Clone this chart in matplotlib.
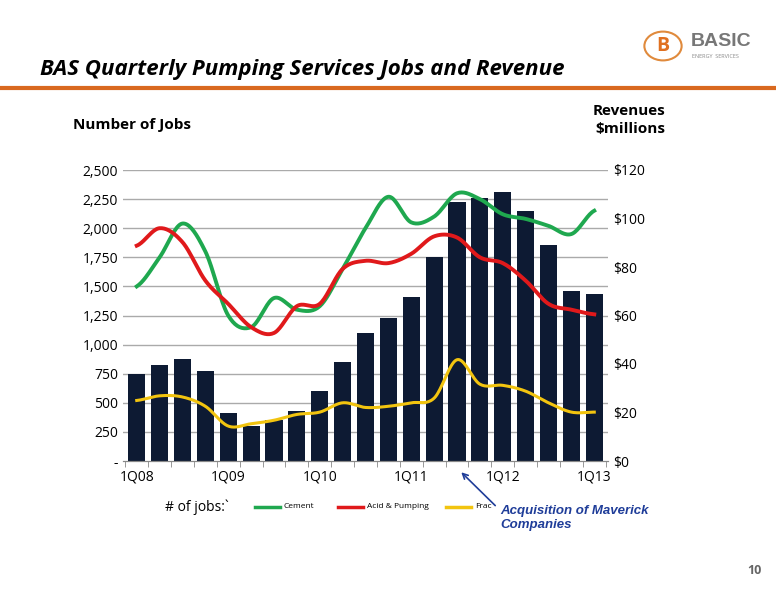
import numpy as np
import matplotlib.pyplot as plt
from matplotlib.lines import Line2D
from matplotlib.patches import Circle

plt.rcParams["font.family"] = ["Open Sans", "DejaVu Sans"]

quarters = ["1Q08", "", "", "", "1Q09", "", "", "", "1Q10", "", "", "", "1Q11",
            "", "", "", "1Q12", "", "", "", "1Q13"]
revenue = [36, 39.4, 42.2, 37, 19.7, 14.4, 16.8, 20.6, 28.8, 40.8, 52.8, 59,
           67.7, 84, 107, 108.5, 111, 103, 89, 70, 69]
cement = [1500, 1750, 2040, 1800, 1250, 1150, 1400, 1300, 1330, 1650, 2000, 2270,
          2050, 2100, 2300, 2250, 2120, 2080, 2020, 1950, 2150]
acid = [1850, 2000, 1880, 1550, 1350, 1150, 1100, 1330, 1350, 1650, 1720, 1700,
        1780, 1930, 1920, 1750, 1700, 1550, 1350, 1300, 1260]
frac = [520, 560, 550, 470, 300, 320, 350, 400, 420, 500, 460, 470,
        500, 540, 870, 660, 650, 600, 500, 420, 420]


def smooth(y, n=20):
    # Catmull-Rom curve through the points, like Excel's smoothed line
    y = np.asarray(y, float)
    p = np.concatenate([[y[0]], y, [y[-1]]])
    xs, ys = [], []
    for i in range(len(y) - 1):
        t = np.linspace(0, 1, n, endpoint=False)
        p0, p1, p2, p3 = p[i], p[i + 1], p[i + 2], p[i + 3]
        v = 0.5 * (2 * p1 + (-p0 + p2) * t + (2 * p0 - 5 * p1 + 4 * p2 - p3) * t ** 2
                   + (-p0 + 3 * p1 - 3 * p2 + p3) * t ** 3)
        xs.extend(i + t)
        ys.extend(v)
    xs.append(len(y) - 1)
    ys.append(y[-1])
    return np.array(xs), np.array(ys)


fig = plt.figure(figsize=(7.76, 6), dpi=100)
x = np.arange(len(revenue))

ax = fig.add_axes([123 / 776, 1 - 461 / 600, 485 / 776, 291 / 600])
ax2 = ax.twinx()
ax.set_zorder(2)
ax.patch.set_visible(False)

ax2.bar(x, revenue, width=0.75, color="#0d1a33", zorder=1)
ax2.set_ylim(0, 120)
ax2.set_yticks(range(0, 121, 20))
ax2.set_yticklabels([f"${v}" for v in range(0, 121, 20)])

for vals, c in [(cement, "#1fa84f"), (acid, "#e0191b"), (frac, "#f2c40f")]:
    sx, sy = smooth(vals)
    ax.plot(sx, sy, color=c, lw=2.8 if c != "#f2c40f" else 2.2)

ax.set_ylim(0, 2500)
ax.set_xlim(-0.6, len(x) - 0.4)
ticks = range(0, 2501, 250)
ax.set_yticks(ticks)
ax.set_yticklabels(["-" if t == 0 else f"{t:,}" for t in ticks])
for t in ticks[1:]:
    ax2.axhline(t * 120 / 2500, color="#aaaaaa", lw=1, zorder=0)
ax.set_xticks(x)
ax.set_xticklabels(quarters)
ax.tick_params(axis="x", length=0, pad=6)
ax.set_xticks(np.arange(-0.5, len(x), 1), minor=True)
ax.tick_params(axis="x", which="minor", length=4, color="#888888")
for a in (ax, ax2):
    a.tick_params(axis="y", length=0, labelsize=10)
    a.tick_params(axis="x", labelsize=10)
    for s in ("top", "left", "right"):
        a.spines[s].set_visible(False)
    a.spines["bottom"].set_color("#888888")

fig.text(40 / 776, 1 - 70 / 600, "BAS Quarterly Pumping Services Jobs and Revenue",
         fontsize=16, fontweight="bold", style="italic", va="center")
fig.add_artist(Line2D([0, 1], [1 - 88 / 600] * 2, color="#d9691f", lw=3))
fig.add_artist(Circle((663 / 776, 1 - 46 / 600), 0.024, transform=fig.transFigure,
                      fill=False, ec="#e08a3c", lw=1.5))
fig.text(663 / 776, 1 - 46 / 600, "B", color="#e07020", fontsize=14,
         fontweight="bold", ha="center", va="center")
fig.text(691 / 776, 1 - 42 / 600, "BASIC", color="#777777", fontsize=14,
         fontweight="bold", va="center", family=["Liberation Sans", "DejaVu Sans"])
fig.text(692 / 776, 1 - 57 / 600, "ENERGY  SERVICES", color="#888888", fontsize=4,
         va="center")
fig.text(73 / 776, 1 - 125 / 600, "Number of Jobs", fontsize=11, fontweight="bold",
         va="center")
fig.text(665 / 776, 1 - 120 / 600, "Revenues\n$millions", fontsize=11,
         fontweight="bold", va="center", ha="right", linespacing=1.4)

fig.text(165 / 776, 1 - 507 / 600, "# of jobs:`", fontsize=10, va="center")
for lx, lab, c in [(255, "Cement", "#1fa84f"), (338, "Acid & Pumping", "#e0191b"),
                   (446, "Frac", "#f2c40f")]:
    fig.add_artist(Line2D([lx / 776, (lx + 25) / 776], [1 - 507 / 600] * 2, color=c, lw=2.5))
    fig.text((lx + 29) / 776, 1 - 507 / 600, lab, fontsize=6, va="center")

ax.annotate("Acquisition of Maverick\nCompanies", xy=(14.1, -80),
            xytext=(500 / 776, 1 - 518 / 600), textcoords="figure fraction",
            fontsize=9.5, fontweight="bold", style="italic", color="#1f3d99",
            ha="left", va="center", family=["Liberation Sans", "DejaVu Sans"],
            annotation_clip=False,
            arrowprops=dict(arrowstyle="->", color="#1f3d99", lw=1.2,
                            relpos=(0, 0.8)))
fig.text(762 / 776, 1 - 571 / 600, "10", fontsize=9, color="#666666",
         fontweight="bold", ha="right", va="center")

fig.savefig("out.png", dpi=100)
